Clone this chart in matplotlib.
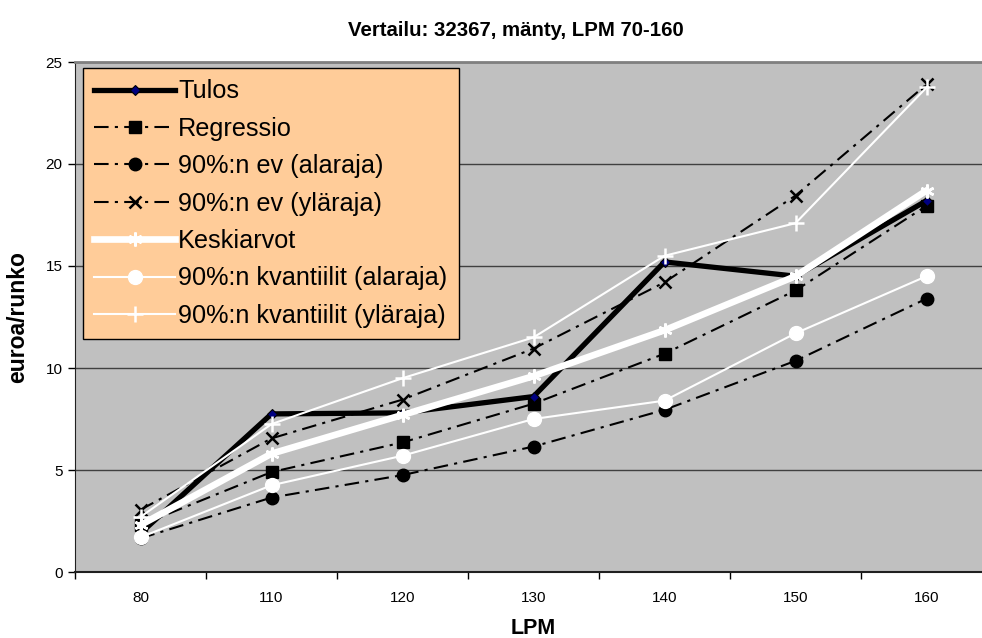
import matplotlib
matplotlib.use("Agg")
import matplotlib.pyplot as plt

plt.rcParams['font.family'] = ['Liberation Sans', 'DejaVu Sans']

categories = ["80", "110", "120", "130", "140", "150", "160"]
tulos = [1.9, 7.75, 7.8, 8.6, 15.2, 14.5, 18.2]
regressio = [2.3, 4.9, 6.35, 8.25, 10.7, 13.8, 17.95]
ev_ala = [1.65, 3.65, 4.75, 6.15, 7.95, 10.35, 13.4]
ev_yla = [3.05, 6.55, 8.45, 10.95, 14.2, 18.45, 23.9]
keskiarvot = [2.3, 5.8, 7.7, 9.6, 11.85, 14.5, 18.7]
kv_ala = [1.7, 4.25, 5.7, 7.5, 8.4, 11.7, 14.5]
kv_yla = [2.7, 7.25, 9.5, 11.5, 15.5, 17.1, 23.75]
yticks = [0, 5, 10, 15, 20, 25]

fig = plt.figure(figsize=(9.82, 6.38), dpi=100)
ax = fig.add_axes([75/982, 66/638, 917/982, 510/638])
ax.set_facecolor('#C0C0C0')
x = list(range(len(categories)))

dash = (0, (7, 3, 1.5, 3))
asterisk = (6, 2, 0)

ax.plot(x, tulos, color='black', lw=3.8, marker='D', ms=5, mfc='#000080', mec='black', mew=0.8,
        label='Tulos', zorder=5)
ax.plot(x, regressio, color='black', lw=1.5, ls=dash, marker='s', ms=9, mfc='black', mec='black',
        label='Regressio', zorder=4)
ax.plot(x, ev_ala, color='black', lw=1.5, ls=dash, marker='o', ms=9, mfc='black', mec='black',
        label='90%:n ev (alaraja)', zorder=4)
ax.plot(x, ev_yla, color='black', lw=1.5, ls=dash, marker='x', ms=9, mew=1.8, mec='black',
        label='90%:n ev (yläraja)', zorder=4)
ax.plot(x, keskiarvot, color='white', lw=4.8, marker=asterisk, ms=10, mew=1.8, mec='white',
        label='Keskiarvot', zorder=6)
ax.plot(x, kv_ala, color='white', lw=1.5, marker='o', ms=10, mfc='white', mec='white',
        label='90%:n kvantiilit (alaraja)', zorder=6)
ax.plot(x, kv_yla, color='white', lw=1.5, marker='+', ms=11, mew=1.8, mec='white',
        label='90%:n kvantiilit (yläraja)', zorder=6)

ax.set_xlim(-0.5, len(categories) - 0.5)
ax.set_ylim(0, 25)
ax.set_yticks(yticks)
ax.set_yticklabels([str(v) for v in yticks], fontsize=11)
ax.set_xticks(x)
ax.set_xticklabels(categories, fontsize=11)
ax.set_xticks([i - 0.5 for i in range(len(categories) + 1)], minor=True)
ax.tick_params(axis='x', which='major', length=0, pad=14)
ax.tick_params(axis='x', which='minor', length=5, width=1, direction='out')
ax.tick_params(axis='y', which='major', length=5, width=1, direction='out', pad=4)

ax.grid(axis='y', color='#404040', lw=1, zorder=1)
ax.set_axisbelow(True)
for s in ['top', 'right']:
    ax.spines[s].set_color('#808080')
    ax.spines[s].set_linewidth(2)
ax.spines['left'].set_color('#202020')
ax.spines['bottom'].set_color('#202020')
ax.spines['bottom'].set_linewidth(1.5)

ax.set_ylabel('euroa/runko', fontsize=16.5, fontweight='bold', labelpad=12)
fig.text(533/982, 1 - 628/638, 'LPM', ha='center', va='center', fontsize=15.5, fontweight='bold')
fig.text(516/982, 1 - 30/638, 'Vertailu: 32367, mänty, LPM 70-160', ha='center', va='center',
         fontsize=14.7, fontweight='bold', family=['Liberation Sans Narrow', 'Liberation Sans'])

leg = ax.legend(loc='upper left', bbox_to_anchor=(8/917, 1 - 6/510), borderaxespad=0,
                fontsize=18.2, frameon=True, fancybox=False, facecolor='#FFCC99', edgecolor='black',
                framealpha=1, handlelength=3.2, handletextpad=0.12, labelspacing=0.53,
                borderpad=0.45)
leg.get_frame().set_linewidth(1)
leg.set_zorder(10)

fig.savefig('out.png', dpi=100)
